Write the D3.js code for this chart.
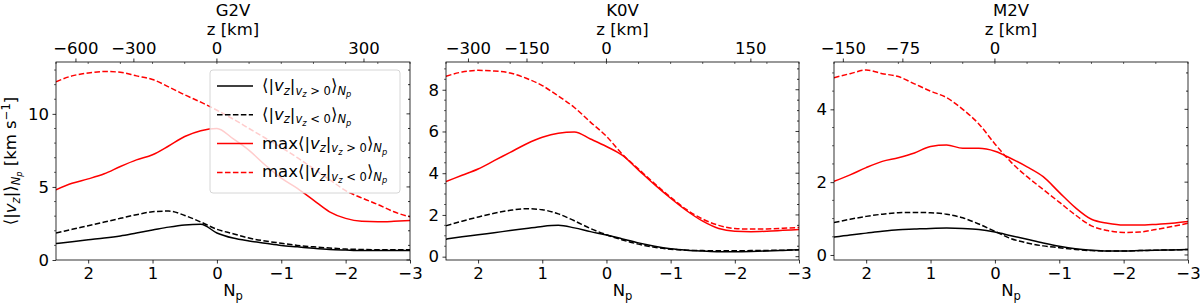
<!DOCTYPE html>
<html>
<head>
<meta charset="utf-8">
<script src="https://cdn.jsdelivr.net/npm/d3@7"></script>
<style>
  body { margin: 0; background: #fff; }
  svg { display: block; font-family: "DejaVu Sans", sans-serif; }
</style>
</head>
<body>
<div id="chart"></div>
<script>
// Np grid (bottom axis), same for every star
const npGrid = [2.5, 2.25, 2.0, 1.75, 1.5, 1.25, 1.0, 0.75, 0.5, 0.25, 0, -0.25, -0.5, -0.75,
                -1.0, -1.25, -1.5, -1.75, -2.0, -2.25, -2.5, -2.75, -3.0];

// G2V
const g2vMeanPos = [1.13, 1.25, 1.38, 1.5, 1.65, 1.85, 2.05, 2.25, 2.4, 2.45, 1.85, 1.5, 1.3, 1.15,
                    1.0, 0.9, 0.8, 0.72, 0.68, 0.65, 0.65, 0.65, 0.65];
const g2vMeanNeg = [1.85, 2.1, 2.35, 2.6, 2.85, 3.1, 3.3, 3.35, 3.05, 2.6, 2.1, 1.8, 1.5, 1.3,
                    1.15, 1.0, 0.9, 0.82, 0.75, 0.72, 0.7, 0.7, 0.7];
const g2vMaxPos = [4.8, 5.25, 5.55, 5.9, 6.4, 6.85, 7.2, 7.8, 8.45, 8.85, 9.0, 8.3, 7.5, 6.5,
                   5.6, 4.9, 4.1, 3.3, 2.85, 2.65, 2.62, 2.65, 2.7];
const g2vMaxNeg = [12.2, 12.6, 12.8, 12.9, 12.85, 12.6, 12.35, 11.85, 11.3, 10.8, 10.25, 9.65, 9.0, 8.35,
                   7.7, 7.0, 6.25, 5.5, 4.75, 4.25, 3.8, 3.3, 2.95];

// K0V
const k0vMeanPos = [0.84, 0.95, 1.05, 1.15, 1.25, 1.35, 1.45, 1.5, 1.38, 1.2, 1.04, 0.85, 0.66, 0.5,
                    0.38, 0.31, 0.27, 0.24, 0.24, 0.25, 0.27, 0.3, 0.33];
const k0vMeanNeg = [1.48, 1.7, 1.9, 2.08, 2.22, 2.3, 2.25, 2.05, 1.72, 1.35, 1.05, 0.8, 0.6, 0.45,
                    0.36, 0.31, 0.29, 0.28, 0.28, 0.29, 0.3, 0.31, 0.33];
const k0vMaxPos = [3.6, 3.9, 4.2, 4.6, 5.0, 5.4, 5.72, 5.92, 5.98, 5.64, 5.28, 4.85, 4.15, 3.45,
                   2.8, 2.2, 1.7, 1.35, 1.22, 1.2, 1.22, 1.26, 1.3];
const k0vMaxNeg = [8.65, 8.85, 8.93, 8.9, 8.8, 8.55, 8.2, 7.7, 7.15, 6.45, 5.77, 4.9, 4.2, 3.5,
                   2.85, 2.25, 1.8, 1.5, 1.35, 1.32, 1.33, 1.36, 1.4];

// M2V
const m2vMeanPos = [0.49, 0.55, 0.6, 0.65, 0.69, 0.71, 0.73, 0.74, 0.73, 0.7, 0.63, 0.53, 0.43, 0.33,
                    0.24, 0.17, 0.13, 0.11, 0.11, 0.12, 0.13, 0.14, 0.15];
const m2vMeanNeg = [0.89, 0.98, 1.06, 1.12, 1.16, 1.17, 1.16, 1.12, 1.02, 0.85, 0.65, 0.45, 0.33, 0.25,
                    0.2, 0.15, 0.12, 0.11, 0.11, 0.12, 0.13, 0.14, 0.15];
const m2vMaxPos = [2.02, 2.2, 2.4, 2.57, 2.67, 2.8, 2.98, 3.02, 2.93, 2.93, 2.85, 2.65, 2.42, 2.15,
                   1.72, 1.3, 0.98, 0.87, 0.82, 0.82, 0.84, 0.87, 0.92];
const m2vMaxNeg = [4.87, 4.98, 5.08, 4.98, 4.9, 4.7, 4.5, 4.32, 4.0, 3.6, 3.05, 2.55, 2.15, 1.8,
                   1.45, 1.1, 0.8, 0.67, 0.62, 0.63, 0.7, 0.78, 0.87];

// bottom ticks
const npTicks = [2, 1, 0, -1, -2, -3];

// top axis: z [km] labels and the Np where each one sits
const g2vZLabels = [-600, -300, 0, 300];
const g2vZAtNp = [2.19, 1.29, 0, -2.285];
const k0vZLabels = [-300, -150, 0, 150];
const k0vZAtNp = [2.15, 1.238, 0, -2.25];
const m2vZLabels = [-150, -75, 0];
const m2vZAtNp = [2.355, 1.43, 0];

const panels = [
  { name: 'G2V', left: 56, right: 410, yDomain: [0, 13.55], yTicks: [0, 5, 10], yMinor: 1,
    series: [g2vMeanPos, g2vMeanNeg, g2vMaxPos, g2vMaxNeg], zLabels: g2vZLabels, zAtNp: g2vZAtNp, legend: true },
  { name: 'K0V', left: 446, right: 799, yDomain: [-0.16, 9.33], yTicks: [0, 2, 4, 6, 8], yMinor: 0.5,
    series: [k0vMeanPos, k0vMeanNeg, k0vMaxPos, k0vMaxNeg], zLabels: k0vZLabels, zAtNp: k0vZAtNp },
  { name: 'M2V', left: 834, right: 1188, yDomain: [-0.138, 5.3], yTicks: [0, 2, 4], yMinor: 0.5,
    series: [m2vMeanPos, m2vMeanNeg, m2vMaxPos, m2vMaxNeg], zLabels: m2vZLabels, zAtNp: m2vZAtNp }
];

// line styles: mean >0, mean <0, max >0, max <0
const styles = [
  { color: '#000', dash: null },
  { color: '#000', dash: '5.55,2.4' },
  { color: '#ff0000', dash: null },
  { color: '#ff0000', dash: '5.55,2.4' }
];

const plotTop = 62, plotBottom = 260;
const fs = 16.5;

const svg = d3.select('#chart').append('svg')
  .attr('width', 1200)
  .attr('height', 306);

// mathtext-like text: segments [text, level, italic]
// level 0 = normal, 1 = subscript, 2 = sub-subscript, -1 = superscript
function mathText(sel, segs, size) {
  const lvlSize = { '-1': size * 0.7, 0: size, 1: size * 0.7, 2: size * 0.5 };
  const lvlOff = { '-1': -size * 0.38, 0: 0, 1: size * 0.22, 2: size * 0.36 };
  let cur = 0;
  segs.forEach(([t, lvl, it]) => {
    const off = lvlOff[lvl];
    sel.append('tspan')
      .attr('dy', off - cur)
      .attr('font-size', lvlSize[lvl])
      .attr('font-style', it ? 'italic' : 'normal')
      .text(t);
    cur = off;
  });
}

const legendLabels = [
  [['⟨|', 0], ['v', 0, 1], ['z', 1, 1], ['|', 0], ['v', 1, 1], ['z', 2, 1], [' > 0', 1], ['⟩', 0], ['N', 1, 1], ['p', 2, 1]],
  [['⟨|', 0], ['v', 0, 1], ['z', 1, 1], ['|', 0], ['v', 1, 1], ['z', 2, 1], [' < 0', 1], ['⟩', 0], ['N', 1, 1], ['p', 2, 1]],
  [['max⟨|', 0], ['v', 0, 1], ['z', 1, 1], ['|', 0], ['v', 1, 1], ['z', 2, 1], [' > 0', 1], ['⟩', 0], ['N', 1, 1], ['p', 2, 1]],
  [['max⟨|', 0], ['v', 0, 1], ['z', 1, 1], ['|', 0], ['v', 1, 1], ['z', 2, 1], [' < 0', 1], ['⟩', 0], ['N', 1, 1], ['p', 2, 1]]
];

const fmt = v => (v < 0 ? '\u2212' + Math.abs(v) : '' + v);

panels.forEach((p, pi) => {
  const x = d3.scaleLinear().domain([2.5, -3]).range([p.left, p.right]);
  const y = d3.scaleLinear().domain(p.yDomain).range([plotBottom, plotTop]);
  const g = svg.append('g');

  // clip
  g.append('clipPath').attr('id', 'clip' + pi)
    .append('rect').attr('x', p.left).attr('y', plotTop)
    .attr('width', p.right - p.left).attr('height', plotBottom - plotTop);

  // curves
  const line = d3.line()
    .x((d, i) => x(npGrid[i]))
    .y(d => y(d))
    .curve(d3.curveMonotoneX);

  p.series.forEach((vals, si) => {
    g.append('path')
      .attr('clip-path', `url(#clip${pi})`)
      .attr('d', line(vals))
      .attr('fill', 'none')
      .attr('stroke', styles[si].color)
      .attr('stroke-width', 1.5)
      .attr('stroke-dasharray', styles[si].dash);
  });

  // axes (bottom, left with labels; top, right ticks only)
  const bottomAxis = g.append('g')
    .attr('transform', `translate(0,${plotBottom})`)
    .call(d3.axisBottom(x).tickValues(npTicks).tickFormat(fmt).tickSize(3.5).tickPadding(3.5));
  const leftAxis = g.append('g')
    .attr('transform', `translate(${p.left},0)`)
    .call(d3.axisLeft(y).tickValues(p.yTicks).tickFormat(fmt).tickSize(3.5).tickPadding(3.5));
  [bottomAxis, leftAxis].forEach(a => {
    a.select('.domain').remove();
    a.selectAll('text').attr('font-size', fs).attr('font-family', '"DejaVu Sans", sans-serif').attr('fill', '#000');
    a.selectAll('line').attr('stroke', '#000').attr('stroke-width', 0.8);
  });

  // minor y ticks on both sides, right side ticks point inward
  const yMinor = d3.range(Math.ceil(p.yDomain[0] / p.yMinor) * p.yMinor, p.yDomain[1], p.yMinor);
  yMinor.forEach(v => {
    const isMajor = p.yTicks.some(t => Math.abs(t - v) < 1e-6);
    const len = isMajor ? 3.5 : 2;
    g.append('line').attr('x1', p.right - len).attr('x2', p.right)
      .attr('y1', y(v)).attr('y2', y(v)).attr('stroke', '#000').attr('stroke-width', 0.8);
    if (!isMajor) {
      g.append('line').attr('x1', p.left - 2).attr('x2', p.left)
        .attr('y1', y(v)).attr('y2', y(v)).attr('stroke', '#000').attr('stroke-width', 0.6);
    }
  });

  // top axis: z [km]
  p.zAtNp.forEach((n, i) => {
    g.append('line').attr('x1', x(n)).attr('x2', x(n))
      .attr('y1', plotTop).attr('y2', plotTop - 3.5).attr('stroke', '#000').attr('stroke-width', 0.8);
    g.append('text').attr('x', x(n)).attr('y', 53.5)
      .attr('text-anchor', 'middle').attr('font-size', fs).text(fmt(p.zLabels[i]));
  });
  // Np ticks mirrored on top spine (inward)
  d3.range(2.5, -3.01, -0.5).forEach(n => {
    g.append('line').attr('x1', x(n)).attr('x2', x(n))
      .attr('y1', plotTop).attr('y2', plotTop + 2).attr('stroke', '#000').attr('stroke-width', 0.6);
  });

  // frame
  g.append('rect').attr('x', p.left).attr('y', plotTop)
    .attr('width', p.right - p.left).attr('height', plotBottom - plotTop)
    .attr('fill', 'none').attr('stroke', '#000').attr('stroke-width', 0.8);

  // titles
  const cx = (p.left + p.right) / 2;
  g.append('text').attr('x', cx).attr('y', 15.5).attr('text-anchor', 'middle')
    .attr('font-size', fs).text(p.name);
  g.append('text').attr('x', cx).attr('y', 34.5).attr('text-anchor', 'middle')
    .attr('font-size', fs).text('z [km]');
  mathText(g.append('text').attr('x', cx).attr('y', 296).attr('text-anchor', 'middle'),
    [['N', 0], ['p', 1]], fs);

  // legend
  if (p.legend) {
    const lg = g.append('g');
    lg.append('rect').attr('x', 210).attr('y', 70).attr('width', 190).attr('height', 123)
      .attr('rx', 3).attr('fill', '#fff').attr('fill-opacity', 0.8)
      .attr('stroke', '#ccc').attr('stroke-width', 0.8);
    legendLabels.forEach((lab, i) => {
      const ly = 86 + i * 28.8;
      lg.append('line').attr('x1', 217).attr('x2', 253).attr('y1', ly).attr('y2', ly)
        .attr('stroke', styles[i].color).attr('stroke-width', 1.5)
        .attr('stroke-dasharray', styles[i].dash);
      mathText(lg.append('text').attr('x', 262).attr('y', ly + 5), lab, fs);
    });
  }
});

// y label
mathText(svg.append('text')
  .attr('transform', 'translate(16,161) rotate(-90)')
  .attr('text-anchor', 'middle'),
  [['⟨|', 0], ['v', 0, 1], ['z', 1, 1], ['|⟩', 0], ['N', 1, 1], ['p', 2, 1], [' [km s', 0], ['\u22121', -1], [']', 0]], fs);
</script>
</body>
</html>
